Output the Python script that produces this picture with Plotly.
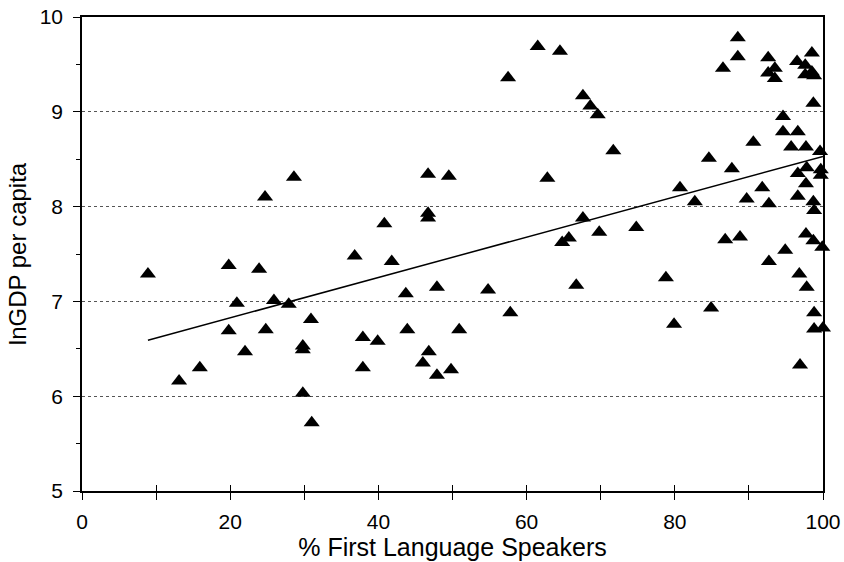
import plotly.graph_objects as go

# % first language speakers (x) and lnGDP per capita (y)
pct_first_language = [
    8.9, 13.1, 15.9, 19.8, 19.8, 20.9, 22.0, 23.9, 24.7, 24.8, 25.9, 27.9, 28.6,
    29.8, 29.8, 29.8, 30.9, 31.0, 36.8, 37.9, 37.9, 39.9, 40.8, 41.8, 43.7, 43.9,
    46.0, 46.7, 46.7, 46.7, 46.8, 47.9, 47.9, 49.5, 49.8, 50.9, 54.8, 57.5, 57.8,
    61.5, 62.8, 64.5, 64.8, 65.7, 66.7, 67.6, 67.6, 68.6, 69.6, 69.8, 71.7, 74.8,
    78.8, 79.9, 80.7, 82.7, 84.6, 84.9, 86.5, 86.8, 87.7, 88.5, 88.5, 88.8, 89.7,
    90.6, 91.8, 92.6, 92.6, 92.7, 92.7, 93.5, 93.5, 94.6, 94.6, 94.9, 95.7, 96.5,
    96.6, 96.6, 96.6, 96.8, 96.9, 97.6, 97.6, 97.7, 97.8, 97.7, 97.7, 97.8, 98.5,
    98.5, 98.8, 98.7, 98.7, 98.8, 98.7, 98.8, 98.8, 99.6, 99.7, 99.7, 99.9, 100.0,
]
ln_gdp_per_capita = [
    7.29, 6.16, 6.30, 7.38, 6.69, 6.98, 6.47, 7.34, 8.10, 6.70, 7.01, 6.97, 8.31,
    6.53, 6.49, 6.03, 6.81, 5.72, 7.48, 6.62, 6.30, 6.58, 7.82, 7.42, 7.08, 6.70,
    6.35, 8.34, 7.93, 7.88, 6.47, 7.15, 6.22, 8.32, 6.28, 6.70, 7.12, 9.36, 6.88,
    9.69, 8.30, 9.64, 7.62, 7.67, 7.17, 9.17, 7.88, 9.06, 8.97, 7.73, 8.59, 7.78,
    7.25, 6.76, 8.20, 8.05, 8.51, 6.93, 9.46, 7.65, 8.40, 9.78, 9.58, 7.68, 8.08,
    8.68, 8.20, 9.57, 9.41, 8.03, 7.42, 9.46, 9.35, 8.95, 8.79, 7.54, 8.63, 9.53,
    8.79, 8.35, 8.11, 7.29, 6.33, 9.49, 9.39, 8.63, 8.41, 8.24, 7.71, 7.15, 9.62,
    9.42, 9.38, 9.09, 8.05, 7.96, 7.64, 6.88, 6.71, 8.58, 8.39, 8.33, 7.57, 6.72,
]

# fitted trend line end points
trend_x = [8.9, 100.0]
trend_y = [6.59, 8.53]

x_tick_vals = [0, 20, 40, 60, 80, 100]
y_tick_vals = [5, 6, 7, 8, 9, 10]

font_family = "Liberation Sans, Arial, sans-serif"

fig = go.Figure()
fig.add_trace(go.Scatter(
    x=trend_x, y=trend_y, mode="lines",
    line=dict(color="black", width=1.5),
    hoverinfo="skip", showlegend=False,
))
fig.add_trace(go.Scatter(
    x=pct_first_language, y=ln_gdp_per_capita, mode="markers",
    marker=dict(symbol="triangle-up", size=14, color="black"),
    cliponaxis=False, showlegend=False,
))

fig.update_layout(
    width=844, height=562,
    margin=dict(l=82, r=21, t=17, b=71),
    paper_bgcolor="white", plot_bgcolor="white",
    font=dict(family=font_family, size=21, color="black"),
    showlegend=False,
)
fig.update_xaxes(
    range=[0, 100], tickvals=x_tick_vals, automargin=False,
    showline=True, linecolor="black", linewidth=1.5, mirror=True,
    ticks="outside", ticklen=7, tickcolor="black", ticklabelstandoff=4,
    ticklabeloverflow="allow",
    minor=dict(dtick=10, ticks="outside", ticklen=7, tickcolor="black", showgrid=False),
    showgrid=False, zeroline=False,
    tickfont=dict(size=21),
    title=dict(text="% First Language Speakers", font=dict(size=25), standoff=4),
)
fig.update_yaxes(
    range=[5, 10], tickvals=y_tick_vals, automargin=False,
    showline=True, linecolor="black", linewidth=1.5, mirror=True,
    ticks="outside", ticklen=7, tickcolor="black", ticklabelstandoff=6,
    ticklabeloverflow="allow",
    minor=dict(dtick=0.5, ticks="outside", ticklen=4, tickcolor="black", showgrid=False),
    showgrid=True, gridcolor="#555555", griddash="dot", gridwidth=1,
    zeroline=False,
    tickfont=dict(size=21),
    title=dict(text="lnGDP per capita", font=dict(size=24), standoff=6),
)
# inward half of the x-axis ticks (the reference ticks cross the axis line)
fig.update_layout(
    xaxis2=dict(
        overlaying="x", anchor="y", side="bottom", range=[0, 100],
        tickvals=x_tick_vals, ticks="inside", ticklen=6, tickcolor="black",
        minor=dict(dtick=10, ticks="inside", ticklen=6, tickcolor="black", showgrid=False),
        showticklabels=False, showgrid=False, showline=False, zeroline=False,
        automargin=False,
    ),
)
fig.add_trace(go.Scatter(x=[None], y=[None], xaxis="x2", yaxis="y",
                         showlegend=False, hoverinfo="skip"))

# remove the browser's default 8px page margin so the figure fills the window
fig.write_html("out.html", config={"displayModeBar": False},
               post_script="document.body.style.margin='0';")
